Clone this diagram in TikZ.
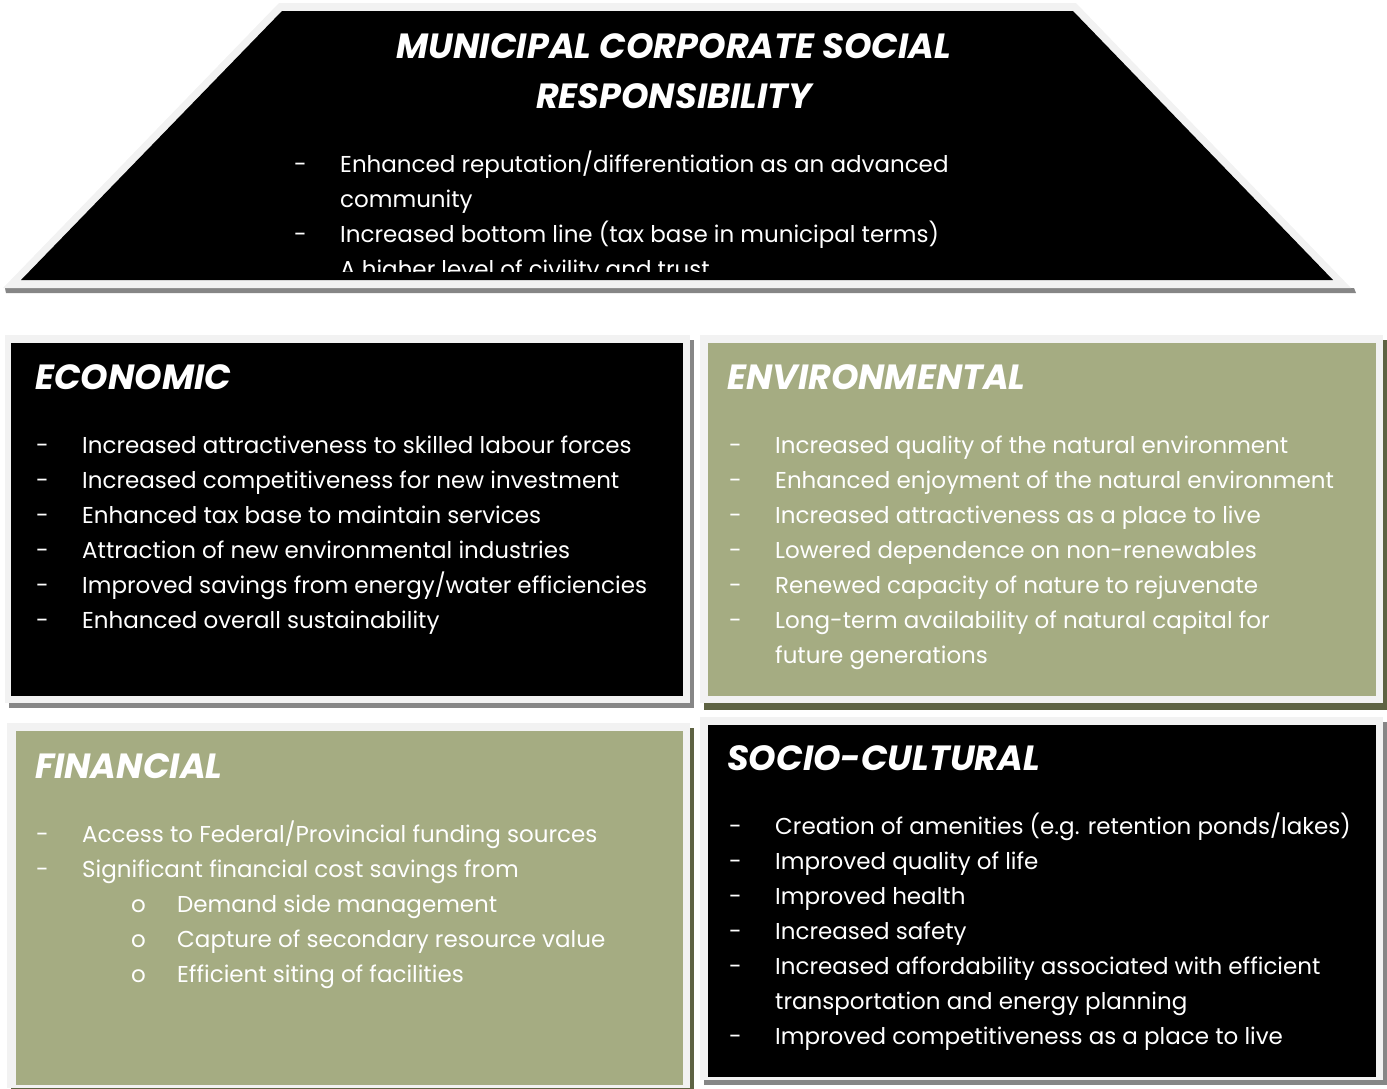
\documentclass[tikz,border=0pt]{standalone}
\usepackage{fontspec}
\setmainfont{Poppins}
\usepackage{array}
\definecolor{framegrey}{HTML}{F2F2F2}
\definecolor{shadegrey}{HTML}{868686}
\definecolor{sage}{HTML}{A5AC82}
\definecolor{sagedark}{HTML}{5E6343}

\tikzset{
  paneltitle/.style={anchor=base west, inner sep=0pt, text=white,
    font=\fontsize{35}{50}\selectfont\bfseries\itshape},
  itemlist/.style={anchor=base west, inner sep=0pt, text=white,
    font=\fontsize{23}{35}\selectfont},
}

\newcommand{\itemtab}[1]{\begin{tabular}[t]{@{}p{46pt}@{}l@{}}#1\end{tabular}}
\newcommand{\subtab}[1]{\begin{tabular}[t]{@{}p{46pt}@{}p{49pt}@{}p{46pt}@{}l@{}}#1\end{tabular}}

\begin{document}
\begin{tikzpicture}[x=1pt, y=-1pt]
	\useasboundingbox (0,0) rectangle (1387,1088);

	% roof
	\fill[shadegrey] (5,288) -- (1354,288) -- (1356,293) -- (6,293) -- cycle;
	\fill[framegrey] (279,3) -- (1076,3) -- (1351,288) -- (3,288) -- cycle;
	\fill[black] (282,11) -- (1073,11) -- (1333,280) -- (21,280) -- cycle;

	\node[paneltitle, anchor=base, align=center] (roof) at (674,108)
		{MUNICIPAL CORPORATE SOCIAL\\RESPONSIBILITY};
	\begin{scope}
		\clip (0,0) rectangle (1387,271);
		\node[itemlist] (roofitems) at (294,172) {\itemtab{
			- & Enhanced reputation/differentiation as an advanced\\
			  & community\\
			- & Increased bottom line (tax base in municipal terms)\\
			  & A higher level of civility and trust}};
	\end{scope}

	% economic
	\fill[shadegrey] (9,340) rectangle (694,708);
	\fill[framegrey] (5,335) rectangle (690,703);
	\fill[black] (11,343) rectangle (683,696);
	\node[paneltitle] (eco) at (35,389) {ECONOMIC};
	\node[itemlist] (ecoitems) at (36,453) {\itemtab{
		- & Increased attractiveness to skilled labour forces\\
		- & Increased competitiveness for new investment\\
		- & Enhanced tax base to maintain services\\
		- & Attraction of new environmental industries\\
		- & Improved savings from energy/water efficiencies\\
		- & Enhanced overall sustainability}};

	% environmental
	\fill[sagedark] (704,340) rectangle (1387,710);
	\fill[framegrey] (700,335) rectangle (1383,703);
	\fill[sage] (708,343) rectangle (1376,696);
	\node[paneltitle] (env) at (727,389) {ENVIRONMENTAL};
	\node[itemlist] (envitems) at (729,453) {\itemtab{
		- & Increased quality of the natural environment\\
		- & Enhanced enjoyment of the natural environment\\
		- & Increased attractiveness as a place to live\\
		- & Lowered dependence on non-renewables\\
		- & Renewed capacity of nature to rejuvenate\\
		- & Long-term availability of natural capital for\\
		  & future generations}};

	% financial
	\fill[sagedark] (11,728) rectangle (694,1092);
	\fill[framegrey] (7,723) rectangle (690,1088);
	\fill[sage] (16,731) rectangle (683,1085);
	\node[paneltitle] (fin) at (35,778) {FINANCIAL};
	\node[itemlist] (finitems) at (36,842) {\subtab{
		- & \multicolumn{3}{@{}l@{}}{Access to Federal/Provincial funding sources}\\
		- & \multicolumn{3}{@{}l@{}}{Significant financial cost savings from}\\
		  & & o & Demand side management\\
		  & & o & Capture of secondary resource value\\
		  & & o & Efficient siting of facilities}};

	% socio-cultural
	\fill[shadegrey] (704,722) rectangle (1387,1085);
	\fill[framegrey] (700,717) rectangle (1383,1080);
	\fill[black] (708,725) rectangle (1376,1077);
	\node[paneltitle] (soc) at (727,770) {SOCIO-CULTURAL};
	\node[itemlist] (socitems) at (729,834) {\itemtab{
		- & Creation of amenities (e.g. retention ponds/lakes)\\
		- & Improved quality of life\\
		- & Improved health\\
		- & Increased safety\\
		- & Increased affordability associated with efficient\\
		  & transportation and energy planning\\
		- & Improved competitiveness as a place to live}};
\end{tikzpicture}
\end{document}
